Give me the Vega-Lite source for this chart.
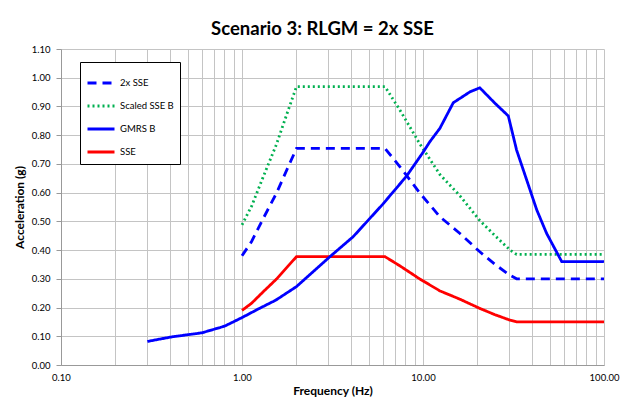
{
  "$schema": "https://vega.github.io/schema/vega-lite/v6.json",
  "width": 543,
  "height": 316,
  "autosize": {"type": "none"},
  "padding": {"left": 61, "top": 49, "right": 24, "bottom": 35},
  "background": "#ffffff",
  "title": {"text": "Scenario 3: RLGM = 2x SSE", "font": "Lato", "fontSize": 18.5, "fontWeight": "bold", "color": "#000000", "anchor": "middle", "dx": -10, "offset": 6},
  "config": {
    "view": {"stroke": null},
    "axis": {"labelFont": "Lato", "labelFontSize": 9.5, "labelColor": "#000000", "titleFont": "Lato", "titleFontSize": 12, "titleFontWeight": "bold", "titleColor": "#000000", "gridColor": "#c4c4c4", "gridWidth": 1, "gridOpacity": 1, "domainColor": "#999999", "tickColor": "#999999"}
  },
  "data": {"values": [
    {"s": "SSE", "f": 1.0, "a": 0.19},
    {"s": "SSE", "f": 1.13, "a": 0.215},
    {"s": "SSE", "f": 1.31, "a": 0.255},
    {"s": "SSE", "f": 1.55, "a": 0.299},
    {"s": "SSE", "f": 1.8, "a": 0.345},
    {"s": "SSE", "f": 2.0, "a": 0.377},
    {"s": "SSE", "f": 6.17, "a": 0.377},
    {"s": "SSE", "f": 7.46, "a": 0.345},
    {"s": "SSE", "f": 9.62, "a": 0.299},
    {"s": "SSE", "f": 12.4, "a": 0.258},
    {"s": "SSE", "f": 16.0, "a": 0.229},
    {"s": "SSE", "f": 20.6, "a": 0.197},
    {"s": "SSE", "f": 25.0, "a": 0.175},
    {"s": "SSE", "f": 30.3, "a": 0.156},
    {"s": "SSE", "f": 32.9, "a": 0.15},
    {"s": "SSE", "f": 100, "a": 0.15},
    {"s": "2x SSE", "f": 1.0, "a": 0.38},
    {"s": "2x SSE", "f": 1.13, "a": 0.43},
    {"s": "2x SSE", "f": 1.31, "a": 0.51},
    {"s": "2x SSE", "f": 1.55, "a": 0.598},
    {"s": "2x SSE", "f": 1.8, "a": 0.69},
    {"s": "2x SSE", "f": 2.0, "a": 0.754},
    {"s": "2x SSE", "f": 6.17, "a": 0.754},
    {"s": "2x SSE", "f": 7.46, "a": 0.69},
    {"s": "2x SSE", "f": 9.62, "a": 0.598},
    {"s": "2x SSE", "f": 12.4, "a": 0.516},
    {"s": "2x SSE", "f": 16.0, "a": 0.458},
    {"s": "2x SSE", "f": 20.6, "a": 0.394},
    {"s": "2x SSE", "f": 25.0, "a": 0.35},
    {"s": "2x SSE", "f": 30.3, "a": 0.312},
    {"s": "2x SSE", "f": 32.9, "a": 0.3},
    {"s": "2x SSE", "f": 100, "a": 0.3},
    {"s": "Scaled SSE B", "f": 1.0, "a": 0.488},
    {"s": "Scaled SSE B", "f": 1.13, "a": 0.553},
    {"s": "Scaled SSE B", "f": 1.31, "a": 0.655},
    {"s": "Scaled SSE B", "f": 1.55, "a": 0.768},
    {"s": "Scaled SSE B", "f": 1.8, "a": 0.887},
    {"s": "Scaled SSE B", "f": 2.0, "a": 0.969},
    {"s": "Scaled SSE B", "f": 6.17, "a": 0.969},
    {"s": "Scaled SSE B", "f": 7.46, "a": 0.887},
    {"s": "Scaled SSE B", "f": 9.62, "a": 0.769},
    {"s": "Scaled SSE B", "f": 12.4, "a": 0.663},
    {"s": "Scaled SSE B", "f": 16.0, "a": 0.589},
    {"s": "Scaled SSE B", "f": 20.6, "a": 0.503},
    {"s": "Scaled SSE B", "f": 25.0, "a": 0.45},
    {"s": "Scaled SSE B", "f": 30.3, "a": 0.4},
    {"s": "Scaled SSE B", "f": 32.9, "a": 0.385},
    {"s": "Scaled SSE B", "f": 100, "a": 0.385},
    {"s": "GMRS B", "f": 0.3, "a": 0.082},
    {"s": "GMRS B", "f": 0.41, "a": 0.098},
    {"s": "GMRS B", "f": 0.6, "a": 0.112},
    {"s": "GMRS B", "f": 0.8, "a": 0.135},
    {"s": "GMRS B", "f": 1.0, "a": 0.165},
    {"s": "GMRS B", "f": 1.23, "a": 0.195},
    {"s": "GMRS B", "f": 1.54, "a": 0.226},
    {"s": "GMRS B", "f": 2.0, "a": 0.273},
    {"s": "GMRS B", "f": 3.06, "a": 0.377},
    {"s": "GMRS B", "f": 4.12, "a": 0.447},
    {"s": "GMRS B", "f": 6.0, "a": 0.56},
    {"s": "GMRS B", "f": 8.1, "a": 0.657},
    {"s": "GMRS B", "f": 10.0, "a": 0.74},
    {"s": "GMRS B", "f": 10.9, "a": 0.777},
    {"s": "GMRS B", "f": 12.4, "a": 0.824},
    {"s": "GMRS B", "f": 14.7, "a": 0.913},
    {"s": "GMRS B", "f": 18.2, "a": 0.951},
    {"s": "GMRS B", "f": 20.6, "a": 0.965},
    {"s": "GMRS B", "f": 25.0, "a": 0.911},
    {"s": "GMRS B", "f": 29.6, "a": 0.867},
    {"s": "GMRS B", "f": 32.9, "a": 0.748},
    {"s": "GMRS B", "f": 37.4, "a": 0.644},
    {"s": "GMRS B", "f": 42.5, "a": 0.54},
    {"s": "GMRS B", "f": 48.2, "a": 0.458},
    {"s": "GMRS B", "f": 58.4, "a": 0.36},
    {"s": "GMRS B", "f": 100, "a": 0.36}
  ]},
  "mark": {"type": "line", "strokeWidth": 2.8, "clip": true},
  "encoding": {
    "x": {"field": "f", "type": "quantitative",
      "scale": {"type": "log", "domain": [0.1, 100], "nice": false},
      "axis": {"title": "Frequency (Hz)", "values": [0.1,0.2,0.3,0.4,0.5,0.6,0.7,0.8,0.9,1,2,3,4,5,6,7,8,9,10,20,30,40,50,60,70,80,90,100],
        "labelExpr": "abs(log(datum.value)/LN10 - round(log(datum.value)/LN10)) < 0.001 ? format(datum.value, '.2f') : ''",
        "tickSize": 0, "labelPadding": 7, "titlePadding": 4, "labelFlush": false, "labelOverlap": false}},
    "y": {"field": "a", "type": "quantitative",
      "scale": {"domain": [0, 1.1], "nice": false},
      "axis": {"title": "Acceleration (g)", "values": [0,0.1,0.2,0.3,0.4,0.5,0.6,0.7,0.8,0.9,1.0,1.1], "format": ".2f", "tickSize": 5, "labelPadding": 6, "titlePadding": 5}},
    "color": {"field": "s", "type": "nominal",
      "scale": {"domain": ["2x SSE", "Scaled SSE B", "GMRS B", "SSE"], "range": ["#0000ff", "#00b050", "#0000ff", "#ff0000"]},
      "legend": {"orient": "none", "legendX": 19, "legendY": 13, "title": null, "strokeColor": "#000000", "fillColor": "#ffffff", "padding": 6, "symbolType": "stroke", "symbolSize": 729, "symbolStrokeWidth": 3, "labelFont": "Lato", "labelFontSize": 9.5, "labelColor": "#000000", "rowPadding": 2, "labelOffset": 4}},
    "strokeDash": {"field": "s", "type": "nominal",
      "scale": {"domain": ["2x SSE", "Scaled SSE B", "GMRS B", "SSE"], "range": [[9, 6], [2, 3], [1, 0], [1, 0]]}}
  }
}
